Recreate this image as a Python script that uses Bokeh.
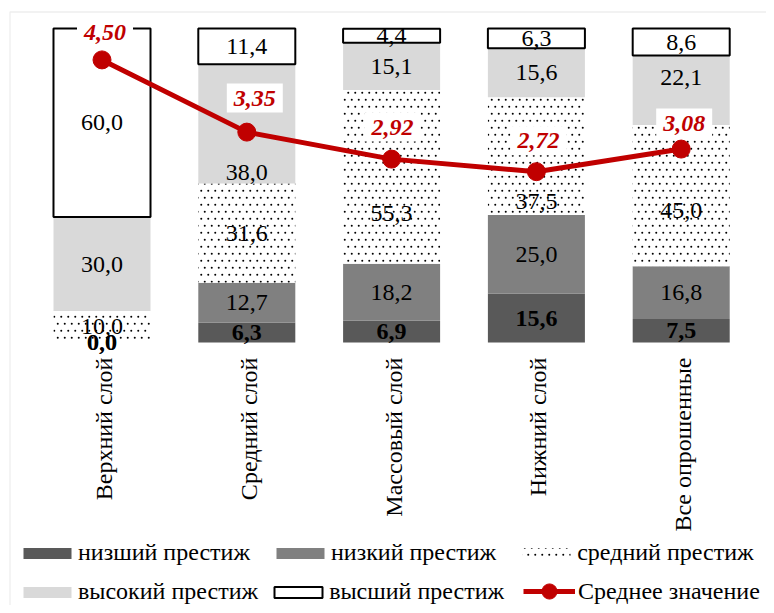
import math
import base64
from bokeh.plotting import figure
from bokeh.models import (ColumnDataSource, Range1d, Legend, LegendItem, BoxAnnotation,
                          ImageURLTexture)
from bokeh.core.properties import value
from bokeh.embed import file_html
from bokeh.resources import INLINE

# ---------------- data ----------------
categories = ["Верхний слой", "Средний слой", "Массовый слой", "Нижний слой", "Все опрошенные"]
lowest = [0.0, 6.3, 6.9, 15.6, 7.5]      # низший престиж
low = [0.0, 12.7, 18.2, 25.0, 16.8]      # низкий престиж
medium = [10.0, 31.6, 55.3, 37.5, 45.0]  # средний престиж
high = [30.0, 38.0, 15.1, 15.6, 22.1]    # высокий престиж
highest = [60.0, 11.4, 4.4, 6.3, 8.6]    # высший престиж
mean_values = [4.50, 3.35, 2.92, 2.72, 3.08]
series_names = ["низший престиж", "низкий престиж", "средний престиж",
                "высокий престиж", "высший престиж"]
mean_name = "Среднее значение"
series_values = [lowest, low, medium, high, highest]

# ---------------- styles / layout ----------------
FONT = "Liberation Serif"
RED = "#C00000"
W, H = 766, 605
PX_PER_CAT = 144.8          # horizontal pixels per category
PX_PER_PCT = 3.14           # vertical pixels per percent
X_ORIGIN = 101.5            # pixel of first category centre
Y_ZERO = 342                # pixel of 0 %

# sparse staggered dot tile (like Excel's "dotted" fill)
tile_svg = ('<svg xmlns="http://www.w3.org/2000/svg" width="14" height="14">'
            '<g fill="black">'
            '<circle cx="1.75" cy="1.75" r="1"/><circle cx="8.75" cy="1.75" r="1"/>'
            '<circle cx="5.25" cy="8.75" r="1"/><circle cx="12.25" cy="8.75" r="1"/>'
            '</g></svg>')
dots = ImageURLTexture(url="data:image/svg+xml;base64," +
                       base64.b64encode(tile_svg.encode()).decode())

styles = [
    dict(fill_color="#595959", line_color=None),
    dict(fill_color="#808080", line_color=None),
    dict(fill_color="white", line_color=None, hatch_pattern=value("sparse_dots"),
         hatch_extra={"sparse_dots": dots}, hatch_color="black"),
    dict(fill_color="#D9D9D9", line_color=None),
    dict(fill_color="white", line_color="black", line_width=2),
]
label_shift = {(1, 3): -15.6, (2, 2): -11.7, (3, 2): -14.3, (4, 2): -4.8, (4, 3): 4.1}
mean_label_dx = [3, 8, 1, 2, 3]
mean_label_dy = [27, 34, 32, 31, 26]
CAT_LABEL_Y = -4.8

xs = list(range(len(categories)))
x0 = -X_ORIGIN / PX_PER_CAT
y1 = Y_ZERO / PX_PER_PCT
y0 = -(H - Y_ZERO) / PX_PER_PCT

p = figure(x_range=Range1d(x0, x0 + W / PX_PER_CAT), y_range=Range1d(y0, y1),
           width=W, height=H, output_backend="svg", toolbar_location=None,
           min_border=0, x_axis_location=None, y_axis_location=None,
           outline_line_color=None)
p.extra_y_ranges = {"mean": Range1d(y0 / 20, y1 / 20)}
p.grid.visible = False

def fmt1(v):
    return f"{v:.1f}".replace(".", ",")

def fmt2(v):
    return f"{v:.2f}".replace(".", ",")

# outer chart border
p.add_layout(BoxAnnotation(left=9.5, right=W + 40, top=H - 11.5, bottom=-40,
                           left_units="screen", right_units="screen",
                           top_units="screen", bottom_units="screen",
                           fill_alpha=0, line_color="#C8C8C8", line_width=1.3,
                           level="underlay"))

bottoms = [0.0] * len(categories)
bar_renderers = []
for i, vals in enumerate(series_values):
    tops = [b + v for b, v in zip(bottoms, vals)]
    src = ColumnDataSource(dict(x=xs, bottom=bottoms, top=tops))
    r = p.vbar(x="x", bottom="bottom", top="top", width=0.67, source=src, **styles[i])
    bar_renderers.append(r)
    bottoms = tops

# data labels
bottoms = [0.0] * len(categories)
for i, vals in enumerate(series_values):
    ys = [bottoms[j] + v / 2 + label_shift.get((j, i), 0.0) for j, v in enumerate(vals)]
    lsrc = ColumnDataSource(dict(x=xs, y=ys, t=[fmt1(v) for v in vals]))
    p.text(x="x", y="y", text="t", source=lsrc, text_font=value(FONT),
           text_font_size="24px", text_align="center", text_baseline="middle",
           text_color="black", text_font_style="bold" if i == 0 else "normal")
    bottoms = [b + v for b, v in zip(bottoms, vals)]

# category labels (vertical, reading upwards)
csrc = ColumnDataSource(dict(x=xs, y=[CAT_LABEL_Y] * len(xs), t=categories))
p.text(x="x", y="y", text="t", source=csrc, angle=math.pi / 2, x_offset=2,
       text_font=value(FONT), text_font_size="24px", text_align="right",
       text_baseline="middle", text_color="black")

# mean line
msrc = ColumnDataSource(dict(x=xs, y=mean_values, t=[fmt2(v) for v in mean_values],
                             dx=mean_label_dx, dy=[-d for d in mean_label_dy]))
line_r = p.line("x", "y", source=msrc, y_range_name="mean", line_color=RED, line_width=5)
dot_r = p.scatter("x", "y", source=msrc, y_range_name="mean", size=18,
                  fill_color=RED, line_color=RED)
p.text(x="x", y="y", text="t", source=msrc, y_range_name="mean",
       x_offset="dx", y_offset="dy", text_font=value(FONT), text_font_size="24px",
       text_font_style="bold italic", text_color=RED, text_align="center",
       text_baseline="middle", background_fill_color="white", padding=7)

# legends
common = dict(orientation="horizontal", label_text_font=FONT, label_text_font_size="24px",
              label_text_color="black", padding=0, margin=0, border_line_color=None,
              background_fill_alpha=0, label_height=20)
leg1 = Legend(items=[LegendItem(label=series_names[i], renderers=[bar_renderers[i]]) for i in range(3)],
              location=(17, 39), glyph_width=60, glyph_height=14, label_standoff=1,
              spacing=20, **common)
leg2 = Legend(items=[LegendItem(label=series_names[i], renderers=[bar_renderers[i]]) for i in (3, 4)],
              location=(17, 0), glyph_width=60, glyph_height=14, label_standoff=1,
              spacing=10, **common)
leg3 = Legend(items=[LegendItem(label=mean_name, renderers=[line_r, dot_r])],
              location=(523, -5), glyph_width=52, glyph_height=38, label_standoff=3,
              spacing=0, **common)
for lg in (leg1, leg2, leg3):
    p.add_layout(lg)

open("out.html", "w").write(file_html(p, INLINE))
